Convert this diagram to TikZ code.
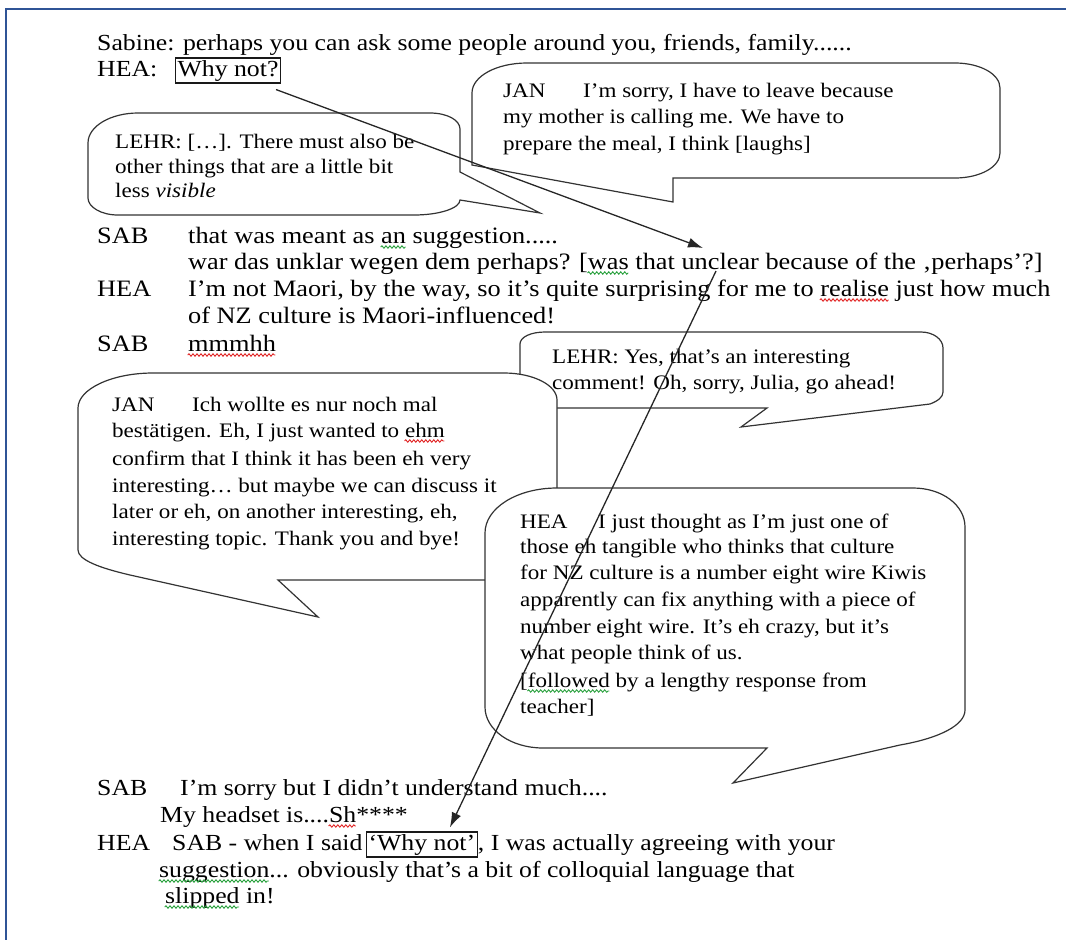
\documentclass[tikz,border=0pt]{standalone}
\usepackage{fontspec}
\setmainfont{Liberation Serif}[FakeStretch=1.12]
\usetikzlibrary{arrows.meta,decorations.pathmorphing}
\definecolor{frameblue}{RGB}{47,84,150}
\definecolor{spellred}{RGB}{225,35,35}
\definecolor{spellgreen}{RGB}{40,160,60}
\newcommand\wavy[2]{\setbox0\hbox{#2}\copy0\llap{\tikz[baseline=0pt]\draw[#1,line width=0.9pt,decorate,decoration={snake,amplitude=1.2pt,segment length=4pt}] (0pt,-4pt)--(\wd0,-4pt);}}
\newcommand\redwave[1]{\wavy{spellred}{#1}}
\newcommand\greenwave[1]{\wavy{spellgreen}{#1}}
\tikzset{
  talk/.style={anchor=base west, inner sep=0pt, font=\fontsize{23}{27}\selectfont},
  midtalk/.style={talk, font=\fontsize{23.5}{27}\selectfont},
  bubtext/.style={anchor=base west, inner sep=0pt, font=\fontsize{20.6}{26}\selectfont},
  bubble/.style={draw=black!80, fill=white, line width=1.2pt},
  whybox/.style={talk, draw=black!90, line width=1.2pt, inner sep=2pt},
  link/.style={draw=black!85, line width=1.3pt, -{Latex[length=15pt,width=10pt]}},
  frameline/.style={draw=frameblue, line width=2.4pt}
}
\begin{document}
\begin{tikzpicture}[x=1pt,y=-1pt]
    \useasboundingbox (0,0) rectangle (1066,940);
    \draw[frameline] (6,940)--(6,9)--(1066,9);
    % opening lines
    \node[talk](sab1) at (97,50) {Sabine: perhaps you can ask some people around you, friends, family......};
    \node[talk](hea1) at (97,76) {HEA:};
    \node[whybox](whyA) at (175,76) {Why not?};
    % LEHR, first bubble
    \draw[bubble] (138,113)--(430,113) .. controls (447,113) and (460,120) .. (460,129)--(460,172)--(540,213)--(460,200) .. controls (460,208) and (440,215) .. (414,215)--(118,215) .. controls (101,215) and (88,207) .. (88,198)--(88,143) .. controls (88,126) and (111,113) .. (138,113)--cycle;
    \node[bubtext](lehrA1) at (115,148) {LEHR: […]. There must also be};
    \node[bubtext](lehrA2) at (115,173) {other things that are a little bit};
    \node[bubtext](lehrA3) at (115,197) {less \textit{visible}};
    % JAN, first bubble
    \draw[bubble] (527,63)--(955,63) .. controls (980,63) and (1000,74) .. (1000,88)--(1000,153) .. controls (1000,167) and (980,178) .. (955,178)--(673,178)--(673,202)--(472,165)--(472,93) .. controls (472,76) and (497,63) .. (527,63)--cycle;
    \node[bubtext](janA1) at (503,97) {\makebox[80pt][l]{JAN}I’m sorry, I have to leave because};
    \node[bubtext](janA2) at (503,123) {my mother is calling me. We have to};
    \node[bubtext](janA3) at (503,150) {prepare the meal, I think [laughs]};
    % middle lines
    \node[midtalk](sab2) at (97,243) {SAB};
    \node[midtalk](sab2a) at (188,243) {that was meant as \greenwave{an} suggestion.....};
    \node[midtalk](sab2b) at (188,269) {war das unklar wegen dem perhaps? [\greenwave{was} that unclear because of the ‚perhaps’?]};
    \node[midtalk](hea2) at (97,296) {HEA};
    \node[midtalk](hea2a) at (188,296) {I’m not Maori, by the way, so it’s quite surprising for me to \redwave{realise} just how much};
    \node[midtalk](hea2b) at (188,323) {of NZ culture is Maori-influenced!};
    \node[midtalk](sab3) at (97,351) {SAB};
    \node[midtalk](sab3a) at (188,351) {\redwave{mmmhh}};
    % LEHR, second bubble
    \draw[bubble] (545,332)--(921,332) .. controls (933,332) and (943,339) .. (943,348)--(943,392) .. controls (943,397) and (938,401) .. (930,404)--(741,427)--(767,408)--(545,408) .. controls (531,408) and (520,403) .. (520,396)--(520,344) .. controls (520,337) and (531,332) .. (545,332)--cycle;
    \node[bubtext](lehrB1) at (552,363) {LEHR: Yes, that’s an interesting};
    \node[bubtext](lehrB2) at (552,389) {comment! Oh, sorry, Julia, go ahead!};
    % JAN, second bubble
    \draw[bubble] (153,373)--(504,373) .. controls (533,373) and (557,385) .. (557,400)--(557,550) .. controls (557,567) and (537,580) .. (512,580)--(278,580)--(318,617)--(130,575) .. controls (100,568) and (78,560) .. (78,550)--(78,408) .. controls (78,389) and (112,373) .. (153,373)--cycle;
    \node[bubtext](janB1) at (112,411) {\makebox[80pt][l]{JAN}Ich wollte es nur noch mal};
    \node[bubtext](janB2) at (112,437) {bestätigen. Eh, I just wanted to \redwave{ehm}};
    \node[bubtext](janB3) at (112,465) {confirm that I think it has been eh very};
    \node[bubtext](janB4) at (112,492) {interesting… but maybe we can discuss it};
    \node[bubtext](janB5) at (112,518) {later or eh, on another interesting, eh,};
    \node[bubtext](janB6) at (112,545) {interesting topic. Thank you and bye!};
    % HEA, bubble
    \draw[bubble] (557,488)--(913,488) .. controls (942,488) and (965,505) .. (965,527)--(965,710) .. controls (965,725) and (940,738) .. (900,745)--(733,783)--(767,748)--(543,748) .. controls (511,748) and (485,730) .. (485,707)--(485,533) .. controls (485,508) and (517,488) .. (557,488)--cycle;
    \node[bubtext](heaB1) at (520,528) {\makebox[78pt][l]{HEA}I just thought as I’m just one of};
    \node[bubtext](heaB2) at (520,553) {those eh tangible who thinks that culture};
    \node[bubtext](heaB3) at (520,579) {for NZ culture is a number eight wire Kiwis};
    \node[bubtext](heaB4) at (520,606) {apparently can fix anything with a piece of};
    \node[bubtext](heaB5) at (520,633) {number eight wire. It’s eh crazy, but it’s};
    \node[bubtext](heaB6) at (520,659) {what people think of us.};
    \node[bubtext](heaB7) at (520,687) {[\greenwave{followed} by a lengthy response from};
    \node[bubtext](heaB8) at (520,713) {teacher]};
    % closing lines
    \node[talk](sab4) at (97,795) {SAB};
    \node[talk](sab4a) at (180,795) {I’m sorry but I didn’t understand much....};
    \node[talk](sab4b) at (160,822) {My headset is....\redwave{Sh}****};
    \node[talk](hea3) at (97,850) {HEA};
    \node[talk](hea3a) at (172,850) {SAB - when I said};
    \node[whybox](whyB) at (366,850) {‘Why not’};
    \node[talk](hea3b) at (whyB.base east) {, I was actually agreeing with your};
    \node[talk](hea3c) at (159,877) {\greenwave{suggestion}... obviously that’s a bit of colloquial language that};
    \node[talk](hea3d) at (165,903) {\greenwave{slipped} in!};
    % the two arrows
    \coordinate (unclearA) at (703,248);
    \coordinate (unclearB) at (716,271);
    \draw[link] ([xshift=-5pt,yshift=-6pt]whyA.south east)--(unclearA);
    \draw[link] (unclearB)--([xshift=28pt,yshift=4pt]whyB.north);
\end{tikzpicture}
\end{document}
